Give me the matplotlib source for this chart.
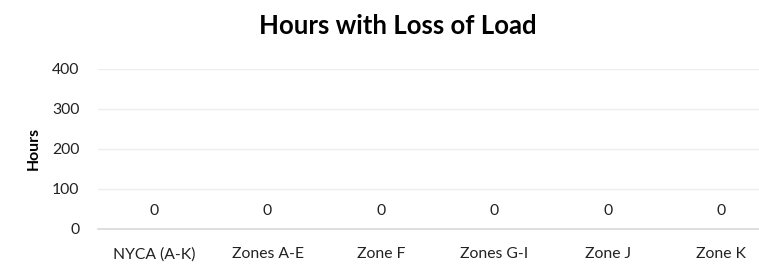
import matplotlib
matplotlib.use("Agg")
import matplotlib.pyplot as plt

# data
zones = ["NYCA (A-K)", "Zones A-E", "Zone F", "Zones G-I", "Zone J", "Zone K"]
hours = [0, 0, 0, 0, 0, 0]
yticks = [0, 100, 200, 300, 400]

plt.rcParams['font.family'] = ['Lato', 'DejaVu Sans']
fs = 11.3

fig = plt.figure(figsize=(7.59, 2.65), dpi=100)
ax = fig.add_axes([0.1285, 0.136, 0.896, 0.604])

x = range(len(zones))
bars = ax.bar(x, hours, width=0.6, color='#4472c4')
for xi, v in zip(x, hours):
    ax.annotate(str(v), (xi, v), xytext=(0, 8), textcoords='offset points',
                ha='center', va='bottom', fontsize=fs, color='#222222')

ax.set_xlim(-0.5, len(zones) - 0.5)
ax.set_ylim(0, 400)
ax.set_yticks(yticks)
ax.set_xticks(list(x))
ax.set_xticklabels(zones)
ax.tick_params(axis='both', length=0, labelsize=fs, colors='#222222')
ax.tick_params(axis='x', pad=13)
ax.tick_params(axis='y', pad=13)

for s in ax.spines.values():
    s.set_visible(False)
ax.yaxis.grid(True, color='#eeeeee', linewidth=1)
ax.set_axisbelow(True)
ax.axhline(0, color='#d9d9d9', linewidth=1.2, clip_on=False)

ax.set_ylabel("Hours", fontsize=fs, fontweight='bold', labelpad=8)
fig.text(0.524, 0.9, "Hours with Loss of Load", ha='center', va='center',
         fontsize=18.5, fontweight='bold')

plt.savefig("out.png", dpi=100)
